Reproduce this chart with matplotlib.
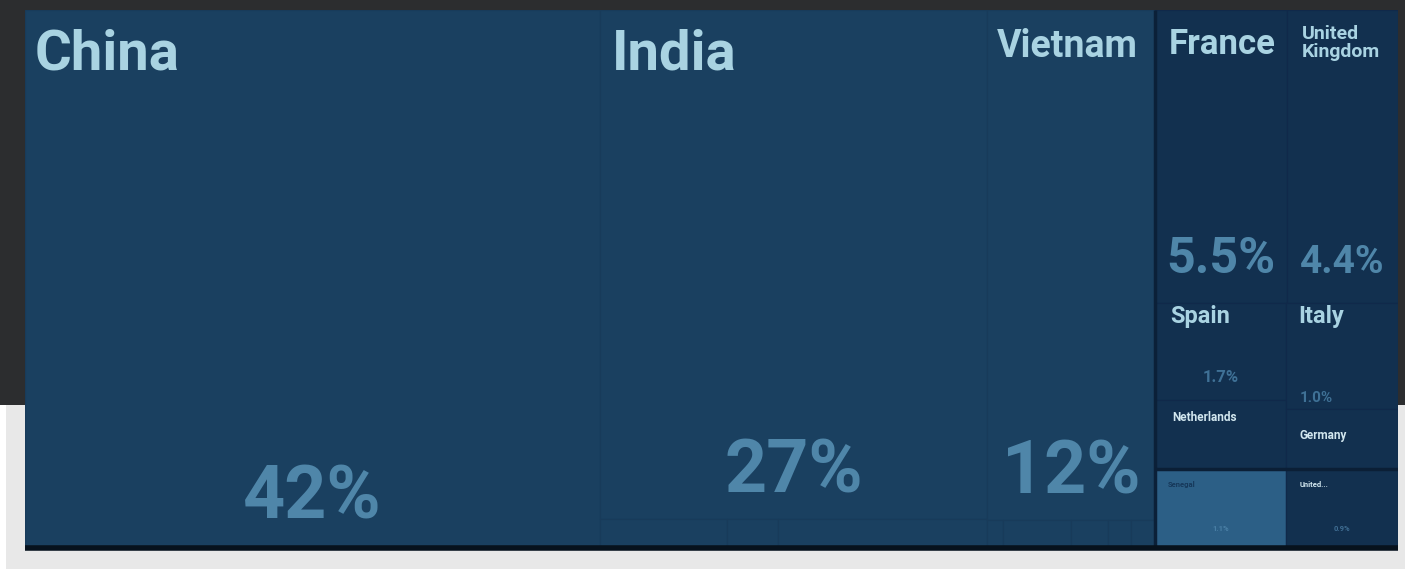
import matplotlib
matplotlib.use("Agg")
import matplotlib.pyplot as plt
from matplotlib.patches import Rectangle

# treemap leaves (share of total, %)
names = ["China", "India", "Vietnam", "France", "United Kingdom",
         "Spain", "Netherlands", "Italy", "Germany", "Senegal", "United..."]
sizes = [41.7, 26.5, 11.56, 5.2, 4.4, 1.7, 1.2, 1.6, 0.9, 1.4, 1.2]
value_labels = ["42%", "27%", "12%", "5.5%", "4.4%", "1.7%", "", "1.0%", "", "1.1%", "0.9%"]

# unlabelled small items along the bottom of the India and Vietnam boxes
india_minor = [0.49, 0.2, 0.81]
vietnam_minor = [0.06, 0.26, 0.14, 0.09, 0.09]

size_of = dict(zip(names, sizes))
value_of = dict(zip(names, value_labels))
india_minor_names = [f"india_minor_{i}" for i in range(len(india_minor))]
vietnam_minor_names = [f"vietnam_minor_{i}" for i in range(len(vietnam_minor))]
size_of.update(zip(india_minor_names, india_minor))
size_of.update(zip(vietnam_minor_names, vietnam_minor))

# nesting of the treemap: 'h' splits left-to-right, 'v' splits top-to-bottom
tree = ("h", [
    "China",
    ("v", ["India", ("h", india_minor_names)]),
    ("v", ["Vietnam", ("h", vietnam_minor_names)]),
    ("v", [
        ("h", ["France", "United Kingdom"]),
        ("h", [("v", ["Spain", "Netherlands"]), ("v", ["Italy", "Germany"])]),
        ("h", ["Senegal", "United..."]),
    ]),
])


def node_size(node):
    if isinstance(node, str):
        return size_of[node]
    return sum(node_size(k) for k in node[1])


def layout(node, x, y, w, h, out):
    if isinstance(node, str):
        out[node] = (x, y, w, h)
        return
    direction, kids = node
    total = node_size(node)
    pos = 0.0
    for k in kids:
        frac = node_size(k) / total
        if direction == "h":
            layout(k, x + pos * w, y, w * frac, h, out)
        else:
            layout(k, x, y + pos * h, w, h * frac, out)
        pos += frac


rects = {}
layout(tree, 0.0, 0.0, 1.0, 1.0, rects)

# styles
MAIN = "#1a4060"
RIGHT = "#12304f"
LIGHT = "#2c5f86"
NAME_C = "#a9d3e2"
VAL_C = "#4f86a9"
right_side = {"France", "United Kingdom", "Spain", "Netherlands", "Italy", "Germany", "United..."}

# name: (display, fontsize, color, pad_x, pad_y)
name_style = {
    "China": ("China", 40.5, NAME_C, 7, 13),
    "India": ("India", 40.5, NAME_C, 8, 13),
    "Vietnam": ("Vietnam", 27, NAME_C, 7, 13),
    "France": ("France", 25, NAME_C, 10, 13),
    "United Kingdom": ("United\nKingdom", 14, NAME_C, 11, 11),
    "Spain": ("Spain", 17, NAME_C, 11, 1),
    "Italy": ("Italy", 17, NAME_C, 9, 1),
    "Netherlands": ("Netherlands", 8.5, "#d2e7ef", 12, 8),
    "Germany": ("Germany", 8.5, "#d2e7ef", 10, 14),
    "Senegal": ("Senegal", 5.5, "#16385a", 9, 9),
    "United...": ("United...", 5.5, "#d2e7ef", 10, 9),
}
# name: (fontsize, color, gap from box bottom in points, ha)
value_style = {
    "China": (53, VAL_C, 21, "center"),
    "India": (53, VAL_C, 19, "center"),
    "Vietnam": (53, VAL_C, 19, "center"),
    "France": (36, VAL_C, 22, "center"),
    "United Kingdom": (28, VAL_C, 22, "center"),
    "Spain": (12, "#3f7196", 13, "center"),
    "Italy": (11, "#3f7196", 5, "left"),
    "Senegal": (5.5, "#4a80a6", 12, "center"),
    "United...": (5.5, "#3f6d92", 12, "center"),
}

fig = plt.figure(figsize=(14.05, 5.69), dpi=100, facecolor="white")
fig.patches.append(Rectangle((0, 164 / 569), 1, 405 / 569, transform=fig.transFigure,
                             facecolor="#2c2d2f", edgecolor="none", zorder=-2))
fig.patches.append(Rectangle((6 / 1405, 0), 1, 164 / 569, transform=fig.transFigure,
                             facecolor="#e8e8e8", edgecolor="none", zorder=-2))

ax = fig.add_axes([25 / 1405, 21 / 569, 1373 / 1405, 538 / 569])
ax.set_xlim(0, 1)
ax.set_ylim(1, 0)
ax.axis("off")

for key, (x, y, w, h) in rects.items():
    if key in right_side:
        fc, ec = RIGHT, "#10294a"
    elif key == "Senegal":
        fc, ec = LIGHT, "#0c2440"
    else:
        fc, ec = MAIN, "#183b5a"
    ax.add_patch(Rectangle((x, y), w, h, facecolor=fc, edgecolor=ec, linewidth=0.9))

# darker divider on the left of the right-hand block, above the bottom row, and bottom shadow
x_fr = rects["France"][0]
y_sen = rects["Senegal"][1]
ax.plot([x_fr, x_fr], [0, 1], color="#0b2038", lw=2.5, solid_capstyle="butt")
ax.plot([x_fr, 1], [y_sen, y_sen], color="#0b1f36", lw=2.5, solid_capstyle="butt")
ax.plot([0, 1], [1, 1], color="#07121d", lw=4, solid_capstyle="butt", clip_on=False)

font = ["Roboto", "DejaVu Sans"]
for key, (text, fs, color, px, py) in name_style.items():
    x, y, w, h = rects[key]
    ax.annotate(text, (x, y), xytext=(px, -py), textcoords="offset points",
                ha="left", va="top", fontsize=fs, color=color, fontweight="bold",
                family=font, linespacing=0.95)

for key, (fs, color, gap, ha) in value_style.items():
    label = value_of.get(key, "")
    if not label:
        continue
    x, y, w, h = rects[key]
    if ha == "center":
        xa, dx = x + w / 2, 0
    else:
        xa, dx = x, 10
    ax.annotate(label, (xa, y + h), xytext=(dx, gap), textcoords="offset points",
                ha=ha, va="baseline", fontsize=fs, color=color, fontweight="bold",
                family=font)

fig.savefig("out.png", dpi=100, facecolor=fig.get_facecolor())
